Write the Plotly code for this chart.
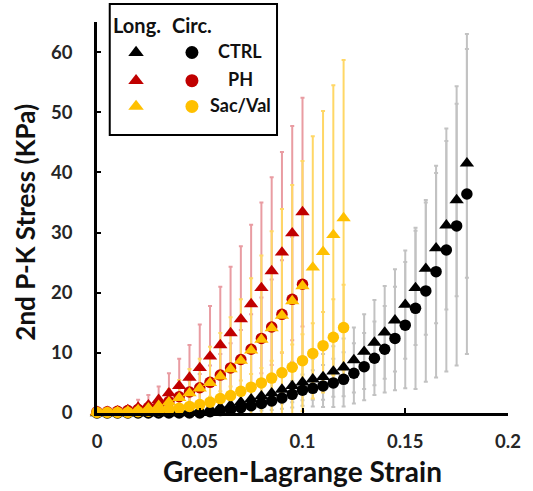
import plotly.graph_objects as go

# Strain grids (Green-Lagrange) for each group
strain_ctrl = [0.0, 0.005, 0.01, 0.015, 0.02, 0.025, 0.03, 0.035, 0.04, 0.045,
               0.05, 0.055, 0.06, 0.065, 0.07, 0.075, 0.08, 0.085, 0.09, 0.095,
               0.1, 0.105, 0.11, 0.115, 0.12, 0.125, 0.13, 0.135, 0.14, 0.145,
               0.15, 0.155, 0.16, 0.165, 0.17, 0.175, 0.18]
strain_ph = [0.0, 0.005, 0.01, 0.015, 0.02, 0.025, 0.03, 0.035, 0.04, 0.045,
             0.05, 0.055, 0.06, 0.065, 0.07, 0.075, 0.08, 0.085, 0.09, 0.095, 0.1]
strain_sv = [0.0, 0.005, 0.01, 0.015, 0.02, 0.025, 0.03, 0.035, 0.04, 0.045,
             0.05, 0.055, 0.06, 0.065, 0.07, 0.075, 0.08, 0.085, 0.09, 0.095,
             0.1, 0.105, 0.11, 0.115, 0.12]

# 2nd P-K stress (kPa), longitudinal and circumferential, with SD
ctrl_long = [0.0, 0.0, 0.0, 0.0, 0.0, 0.0, 0.0, 0.0, 0.0, 0.1,
             0.2, 0.5, 0.9, 1.3, 1.8, 2.3, 2.8, 3.3, 3.9, 4.5,
             5.1, 5.6, 6.0, 6.9, 7.6, 8.8, 10.2, 11.7, 13.4, 15.4,
             18.0, 20.8, 24.0, 27.4, 31.2, 35.4, 41.5]
ctrl_long_sd = [0.0, 0.0, 0.0, 0.0, 0.0, 0.0, 0.0, 0.0, 0.0, 0.1,
                0.2, 0.3, 0.6, 0.8, 1.1, 1.4, 1.7, 2.0, 2.3, 2.7,
                3.0, 3.4, 3.8, 4.2, 4.8, 5.4, 6.2, 7.1, 7.7, 8.5,
                9.0, 9.5, 11.0, 12.5, 14.0, 16.0, 19.0]
ctrl_circ = [0.0, 0.0, 0.0, 0.0, 0.0, 0.0, 0.0, 0.0, 0.0, 0.0,
             0.0, 0.2, 0.4, 0.6, 0.9, 1.2, 1.6, 2.0, 2.5, 3.1,
             3.8, 4.1, 4.5, 5.0, 5.6, 6.6, 7.7, 9.1, 10.6, 12.4,
             14.6, 17.4, 20.3, 23.5, 27.1, 31.1, 36.4]
ctrl_circ_sd = [0.0, 0.0, 0.0, 0.0, 0.0, 0.0, 0.0, 0.0, 0.0, 0.0,
                0.1, 0.2, 0.3, 0.5, 0.7, 0.9, 1.2, 1.5, 1.8, 2.2,
                2.6, 3.0, 3.5, 4.0, 4.5, 5.0, 5.6, 6.1, 7.2, 8.6,
                10.5, 13.4, 15.1, 17.6, 20.2, 23.2, 26.6]

ph_long = [0.2, 0.2, 0.3, 0.5, 0.9, 1.3, 2.2, 3.3, 4.5, 5.9,
           7.5, 9.4, 11.3, 13.3, 15.6, 18.1, 20.8, 23.6, 26.7, 29.9, 33.4]
ph_long_sd = [0.1, 0.1, 0.3, 0.6, 1.3, 1.7, 2.2, 3.3, 4.5, 5.4,
              7.2, 8.4, 9.7, 11.0, 12.1, 13.2, 14.2, 15.6, 16.7, 17.8, 19.0]
ph_circ = [0.2, 0.2, 0.3, 0.4, 0.6, 0.9, 1.3, 1.9, 2.7, 3.5,
           4.2, 5.1, 6.3, 7.5, 8.9, 10.6, 12.4, 14.3, 16.4, 18.9, 21.4]
ph_circ_sd = [0.1, 0.1, 0.1, 0.2, 0.3, 0.5, 0.7, 1.0, 1.5, 1.9,
              2.3, 2.8, 3.5, 4.1, 4.9, 5.8, 6.8, 7.9, 9.0, 10.4, 12.0]

sv_long = [0.1, 0.1, 0.2, 0.3, 0.5, 0.8, 1.2, 1.8, 2.5, 3.3,
           4.1, 5.0, 6.1, 7.3, 8.7, 10.4, 12.2, 14.1, 16.2, 18.6,
           21.1, 24.2, 26.8, 29.6, 32.4]
sv_long_sd = [0.1, 0.1, 0.2, 0.4, 0.6, 1.0, 1.5, 2.2, 3.0, 4.0,
              4.9, 6.0, 7.2, 8.6, 10.2, 12.0, 14.0, 16.1, 17.7, 19.3,
              20.8, 21.8, 23.4, 24.9, 26.3]
sv_circ = [0.1, 0.1, 0.1, 0.1, 0.2, 0.3, 0.4, 0.6, 0.8, 1.1,
           1.4, 1.8, 2.4, 2.9, 3.6, 4.3, 5.0, 5.8, 6.7, 7.6,
           8.7, 9.9, 11.2, 12.6, 14.2]
sv_circ_sd = [0.1, 0.1, 0.1, 0.1, 0.1, 0.2, 0.2, 0.3, 0.4, 0.6,
              0.7, 0.9, 1.2, 1.5, 1.8, 2.2, 2.5, 2.9, 3.4, 3.8,
              4.4, 5.0, 5.6, 6.3, 7.1]

x_ticks = [0, 0.05, 0.1, 0.15, 0.2]
x_tick_text = ["0", "0.05", "0.1", "0.15", "0.2"]
y_ticks = [0, 10, 20, 30, 40, 50, 60]

groups = ["CTRL", "PH", "Sac/Val"]
group_colors = {"CTRL": "#000000", "PH": "#c00000", "Sac/Val": "#ffc000"}
bar_colors = {"CTRL": "#c2c2c2", "PH": "#e99ca2", "Sac/Val": "#ffd766"}

series = [
    ("CTRL", "triangle-up", strain_ctrl, ctrl_long, ctrl_long_sd),
    ("CTRL", "circle", strain_ctrl, ctrl_circ, ctrl_circ_sd),
    ("PH", "triangle-up", strain_ph, ph_long, ph_long_sd),
    ("PH", "circle", strain_ph, ph_circ, ph_circ_sd),
    ("Sac/Val", "circle", strain_sv, sv_circ, sv_circ_sd),
    ("Sac/Val", "triangle-up", strain_sv, sv_long, sv_long_sd),
]

FONT = "Lato"
fig = go.Figure()

# Error bars first so that every marker sits above them
for grp, sym, xs, ys, sd in series:
    fig.add_trace(go.Scatter(
        x=xs, y=ys, mode="markers",
        marker=dict(size=1, color="rgba(0,0,0,0)"),
        error_y=dict(type="data", array=sd, visible=True,
                     color=bar_colors[grp], thickness=2, width=2),
        cliponaxis=False, showlegend=False, hoverinfo="skip",
    ))

for grp, sym, xs, ys, sd in series:
    fig.add_trace(go.Scatter(
        x=xs, y=ys, mode="markers", name=grp,
        marker=dict(symbol=sym, size=11.5 if sym == "circle" else 12.5,
                    color=group_colors[grp], line=dict(width=0)),
        cliponaxis=False, showlegend=False,
    ))

# Two-column key (Long. / Circ.) drawn on an overlay axis spanning the plot area
key_x_long, key_x_circ, key_x_label = 0.095, 0.231, 0.348
key_rows = {"CTRL": 0.922, "PH": 0.850, "Sac/Val": 0.784}
for grp in groups:
    fig.add_trace(go.Scatter(
        x=[key_x_long], y=[key_rows[grp]], xaxis="x2", yaxis="y2",
        mode="markers", marker=dict(symbol="triangle-up", size=13.5,
                                    color=group_colors[grp]),
        cliponaxis=False, showlegend=False, hoverinfo="skip"))
    fig.add_trace(go.Scatter(
        x=[key_x_circ], y=[key_rows[grp]], xaxis="x2", yaxis="y2",
        mode="markers", marker=dict(symbol="circle", size=13,
                                    color=group_colors[grp]),
        cliponaxis=False, showlegend=False, hoverinfo="skip"))

annotations = [
    dict(text="Long.", x=key_x_long + 0.003, y=0.993, size=20),
    dict(text="Circ.", x=key_x_circ, y=0.993, size=20),
]
for grp in groups:
    annotations.append(dict(text=grp, x=key_x_label, y=key_rows[grp] + 0.004,
                            size=18))
for a in annotations:
    size = a.pop("size")
    a.update(xref="paper", yref="paper", showarrow=False,
             xanchor="center", yanchor="middle",
             font=dict(family=FONT, size=size, color="#111111", weight="bold"))

annotations.append(dict(
    text="Green-Lagrange Strain", xref="paper", yref="paper", x=0.5, y=-0.149,
    xanchor="center", yanchor="middle", showarrow=False,
    font=dict(family=FONT, size=28, color="#111111", weight="bold")))
annotations.append(dict(
    text="2nd P-K Stress (KPa)", xref="paper", yref="paper", x=-0.174, y=0.488,
    xanchor="center", yanchor="middle", showarrow=False, textangle=-90,
    font=dict(family=FONT, size=26, color="#111111", weight="bold")))

fig.update_layout(
    width=533, height=491,
    margin=dict(l=97, r=16, t=22, b=78),
    paper_bgcolor="white", plot_bgcolor="white",
    font=dict(family=FONT),
    xaxis=dict(range=[0, 0.2], tickvals=x_ticks, ticktext=x_tick_text,
               showgrid=False, zeroline=False, showline=True,
               linecolor="#000000", linewidth=2.5,
               ticks="inside", ticklen=5, tickwidth=2, tickcolor="#000000",
               ticklabelstandoff=10,
               tickfont=dict(family=FONT, size=18.5, color="#262626", weight="bold")),
    yaxis=dict(range=[0, 65], tickvals=y_ticks,
               showgrid=False, zeroline=False, showline=True,
               linecolor="#000000", linewidth=2.5,
               ticks="inside", ticklen=4, tickwidth=2, tickcolor="#000000",
               ticklabelstandoff=18,
               tickfont=dict(family=FONT, size=18.5, color="#262626", weight="bold")),
    xaxis2=dict(range=[0, 1], overlaying="x", visible=False, fixedrange=True),
    yaxis2=dict(range=[0, 1], overlaying="y", visible=False, fixedrange=True),
    shapes=[dict(type="rect", xref="paper", yref="paper",
                 x0=0.031, x1=0.438, y0=0.711, y1=1.046,
                 line=dict(color="#000000", width=2), fillcolor="rgba(0,0,0,0)")],
    annotations=annotations,
)

fig.write_html("out.html")
